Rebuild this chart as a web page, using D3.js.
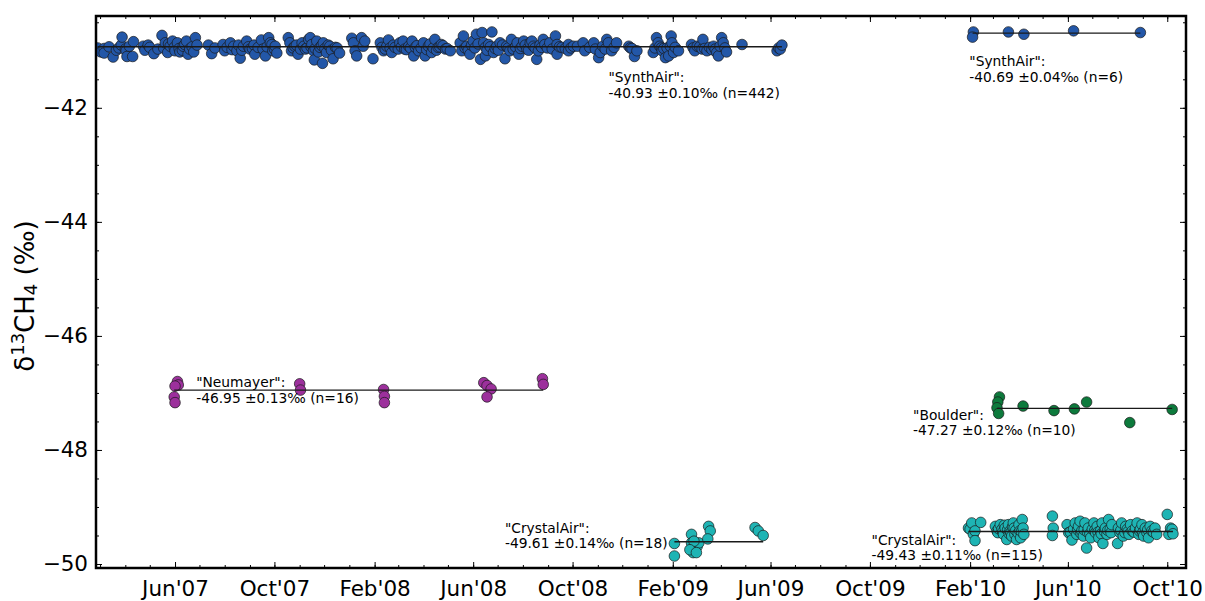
<!DOCTYPE html>
<html>
<head>
<meta charset="utf-8">
<script src="https://cdn.jsdelivr.net/npm/d3@7"></script>
<style>
  body { margin: 0; background: #fff; }
  svg { display: block; }
  text { font-family: "DejaVu Sans", sans-serif; fill: #000; }
</style>
</head>
<body>
<svg id="chart" width="1205" height="601"></svg>
<script>
// δ13CH4 of reference gases measured over time.
// Each point: [days since 1 Jan 2007, δ13CH4 in ‰].

const synthAir1 = [
  [56,-40.95],[60,-41.02],
  [64,-40.96],[64,-41.04],[70,-40.93],[75,-41.11],[79,-40.99],[82,-40.95],[85,-40.90],[86,-40.76],[90,-40.97],[91,-41.00],[92,-41.10],[95,-40.92],[99,-41.10],[100,-40.84],
  [112,-40.92],[114,-40.99],[118,-40.90],[120,-40.94],[125,-41.05],[130,-40.97],[135,-40.73],[137,-40.95],[139,-40.86],[142,-41.03],[143,-40.88],[145,-40.92],[148,-40.83],[150,-40.94],[151,-41.00],[154,-40.86],[156,-40.96],[157,-41.02],[160,-40.99],[161,-40.92],[163,-40.89],[165,-40.83],[167,-41.06],[169,-40.97],[172,-40.93],[174,-41.02],[176,-40.77],[178,-40.90],
  [192,-40.90],[196,-41.05],[200,-40.95],[210,-40.89],[212,-41.00],[215,-40.94],[219,-40.86],[221,-40.98],[223,-40.92],[227,-41.00],[229,-40.90],[231,-41.13],[233,-40.99],[235,-40.92],[239,-40.83],[241,-40.93],[243,-40.97],[246,-40.96],[248,-40.90],[249,-41.06],[253,-40.94],[257,-40.81],[259,-40.97],[262,-41.09],[264,-40.93],[266,-40.77],[268,-40.86],[270,-40.89],[271,-41.00],[273,-40.97],[274,-40.92],[276,-41.04],
  [290,-40.77],[292,-40.86],[294,-41.00],[296,-40.95],[298,-40.92],[300,-40.90],[302,-41.06],[305,-40.97],[307,-40.86],[309,-40.92],[311,-40.97],[313,-40.95],[315,-40.80],[317,-40.77],[318,-40.93],[319,-40.89],[321,-41.00],[322,-41.16],[323,-40.96],[325,-40.83],[327,-41.02],[329,-40.94],[331,-40.91],[332,-41.22],[333,-40.86],[335,-40.96],[337,-41.03],[339,-40.90],[341,-40.92],[343,-40.99],[345,-41.14],[348,-40.94],[350,-40.95],[353,-41.04],
  [368,-40.78],[370,-40.86],[372,-41.00],[374,-41.09],[380,-40.77],[382,-40.92],[384,-40.83],[394,-41.14],
  [403,-40.86],[405,-40.94],[407,-41.00],[409,-40.97],[411,-40.92],[413,-40.81],[415,-40.95],[417,-41.03],[419,-40.90],[421,-40.94],[425,-40.97],[427,-40.86],[429,-40.93],[431,-40.83],[433,-40.97],[435,-40.98],[438,-40.92],[440,-40.95],[442,-40.83],[444,-41.09],[446,-40.94],[448,-40.91],[450,-41.00],[453,-40.95],[456,-40.86],[458,-41.09],[460,-40.98],[462,-40.92],[464,-40.88],[466,-41.03],[468,-40.95],[470,-40.80],[472,-40.99],[474,-40.94],[476,-40.93],[478,-40.89],[480,-40.91],[483,-40.97],[485,-40.96],[489,-41.00],
  [501,-40.86],[503,-41.00],[505,-40.74],[507,-40.95],[509,-40.92],[511,-40.99],[513,-41.06],[515,-40.90],[517,-40.83],[519,-40.95],[521,-40.71],[523,-40.88],[526,-41.15],[528,-40.68],[530,-40.86],[532,-40.94],[532,-41.09],[534,-40.99],[536,-40.89],[538,-40.93],[540,-40.67],[542,-41.03],[544,-40.96],[546,-40.92],[548,-40.99],[550,-40.86],[553,-40.90],[556,-41.14],[558,-40.92],[560,-40.95],[562,-41.00],[564,-40.80],[566,-40.97],[569,-40.93],[571,-40.86],[573,-41.06],[575,-40.96],[577,-40.92],[579,-40.83],[581,-40.90],[583,-40.97],[585,-40.99],[587,-40.86],[589,-40.83],[591,-40.92],[593,-40.95],[595,-41.15],[597,-41.00],[599,-40.90],[601,-40.94],[603,-40.80],[605,-40.89],[608,-40.95],[611,-40.86],[614,-40.97],[618,-40.74],[620,-40.89],[620,-41.06],[623,-40.93],[626,-40.94],[630,-40.96],[634,-40.89],[634,-41.00],[637,-40.95],[640,-40.92],[645,-40.92],[652,-40.86],[654,-41.00],[660,-40.94],[665,-40.86],[667,-40.97],[671,-41.12],[673,-41.03],[676,-40.92],[679,-40.97],[681,-40.80],[683,-40.86],[687,-41.00],[690,-40.94],[693,-40.86],[708,-40.92],[710,-40.95],[712,-40.96],[715,-41.10],[718,-41.00],
  [738,-41.03],[740,-40.95],[742,-40.77],[744,-40.86],[746,-40.92],[748,-40.95],[749,-41.00],[751,-40.96],[753,-41.12],[755,-40.95],[757,-41.09],[759,-40.92],[760,-40.74],[761,-40.86],[763,-41.03],[765,-40.94],[769,-41.00],
  [785,-40.89],[787,-40.95],[789,-41.00],[792,-40.92],[795,-40.93],[798,-40.97],[799,-40.80],[801,-40.96],[804,-41.00],[807,-40.94],[810,-40.98],[812,-40.92],[814,-40.97],[816,-41.03],[818,-41.09],[820,-40.92],[822,-40.77],[824,-40.86],[826,-40.95],[828,-41.02],
  [847,-40.89],
  [890,-41.00],[892,-40.95],[894,-40.97],[896,-40.90]
];

const synthAir2 = [
  [1131,-40.67],[1130,-40.76],[1174,-40.67],[1193,-40.71],[1254,-40.65],[1336,-40.68]
];

const neumayer = [
  [154,-46.80],[155,-46.86],[151,-46.88],[150,-47.07],[151,-47.17],
  [304,-46.84],[305,-46.95],
  [407,-46.94],[408,-47.06],[408,-47.17],
  [530,-46.82],[534,-46.87],[539,-46.93],[534,-47.07],
  [602,-46.75],[603,-46.85]
];

const boulder = [
  [1163,-47.07],[1161,-47.16],[1160,-47.26],[1162,-47.36],[1192,-47.23],
  [1230,-47.31],[1255,-47.28],[1270,-47.16],[1323,-47.52],[1375,-47.29]
];

const crystalAir1 = [
  [764,-49.64],[764,-49.86],[785,-49.48],[785,-49.63],[787,-49.72],[789,-49.66],[792,-49.69],[794,-49.63],[788,-49.60],
  [787,-49.80],[783,-49.75],[791,-49.80],
  [806,-49.34],[808,-49.42],[805,-49.56],
  [863,-49.36],[867,-49.42],[873,-49.50]
];

const crystalAir2 = [
  [1125,-49.37],[1127,-49.39],[1129,-49.28],[1131,-49.48],[1133,-49.42],[1133,-49.59],[1140,-49.27],
  [1158,-49.34],[1160,-49.42],[1161,-49.45],[1162,-49.38],[1164,-49.31],[1166,-49.39],[1167,-49.44],[1168,-49.48],[1169,-49.32],[1170,-49.37],[1172,-49.57],[1173,-49.40],[1174,-49.31],[1175,-49.47],[1176,-49.42],[1177,-49.45],[1178,-49.51],[1179,-49.35],[1180,-49.28],[1181,-49.37],[1182,-49.48],[1183,-49.41],[1184,-49.57],[1186,-49.46],[1187,-49.31],[1188,-49.42],[1189,-49.54],[1190,-49.43],[1191,-49.22],[1192,-49.37],[1193,-49.48],
  [1228,-49.16],[1229,-49.37],[1228,-49.50],[1246,-49.31],[1248,-49.45],[1250,-49.44],[1252,-49.58],[1254,-49.39],[1256,-49.28],[1258,-49.48],[1259,-49.40],[1260,-49.34],[1262,-49.25],[1263,-49.46],[1264,-49.42],[1266,-49.51],[1267,-49.40],[1268,-49.28],[1270,-49.72],[1271,-49.44],[1272,-49.37],[1274,-49.47],[1275,-49.54],[1277,-49.39],[1279,-49.28],[1280,-49.41],[1281,-49.45],[1283,-49.34],[1284,-49.44],[1285,-49.54],[1287,-49.42],[1288,-49.47],[1289,-49.28],[1290,-49.64],[1292,-49.43],[1293,-49.37],[1295,-49.48],[1296,-49.41],[1297,-49.22],[1299,-49.39],[1300,-49.45],[1301,-49.31],
  [1308,-49.64],[1309,-49.37],[1311,-49.45],[1312,-49.41],[1313,-49.28],[1315,-49.51],[1317,-49.45],[1318,-49.34],[1320,-49.39],[1321,-49.43],[1322,-49.48],[1324,-49.31],[1326,-49.42],[1328,-49.44],[1330,-49.37],[1332,-49.28],[1334,-49.48],[1335,-49.42],[1336,-49.39],[1338,-49.31],[1339,-49.45],[1340,-49.51],[1342,-49.37],[1344,-49.45],[1345,-49.40],[1346,-49.54],[1348,-49.34],[1350,-49.42],[1352,-49.44],[1354,-49.37],[1356,-49.48],
  [1369,-49.13],[1371,-49.48],[1373,-49.37],[1375,-49.39],[1376,-49.47]
];

// Summary statistics per gas run (mean, 1σ, number of measurements)
const groupNames  = ["SynthAir", "SynthAir", "Neumayer", "Boulder", "CrystalAir", "CrystalAir"];
const groupSeries = [synthAir1, synthAir2, neumayer, boulder, crystalAir1, crystalAir2];
const groupMeans  = [-40.93, -40.69, -46.95, -47.27, -49.61, -49.43];
const groupSds    = [0.10, 0.04, 0.13, 0.12, 0.14, 0.11];
const groupCounts = [442, 6, 16, 10, 18, 115];

// Axis tick labels
const xTickLabels = ["Jun'07","Oct'07","Feb'08","Jun'08","Oct'08","Feb'09","Jun'09","Oct'09","Feb'10","Jun'10","Oct'10"];
const yTickValues = [-50, -48, -46, -44, -42];

// ---- layout & style ----
const groupColors = ["#2357a8", "#2357a8", "#9c309c", "#0d7a3c", "#1eb4b4", "#1eb4b4"];
// annotation anchors in data units: [day, δ value of first text baseline]
const noteAnchors = [[683,-41.55],[1126,-41.27],[177,-46.90],[1057,-47.47],[556,-49.45],[1006,-49.66]];

const W = 1205, H = 601;
const plot = { left: 96, right: 1186, top: 16, bottom: 568 };
const epoch = Date.UTC(2007, 0, 1);
const toDate = d => new Date(epoch + d * 864e5);

const x = d3.scaleUtc()
  .domain([toDate(54), toDate(1392)])
  .range([plot.left, plot.right]);
const y = d3.scaleLinear()
  .domain([-50.07, -40.39])
  .range([plot.bottom, plot.top]);

const svg = d3.select("#chart");

svg.append("defs").append("clipPath").attr("id", "plot-clip")
  .append("rect")
  .attr("x", plot.left).attr("y", plot.top)
  .attr("width", plot.right - plot.left).attr("height", plot.bottom - plot.top);

// ---- ticks (inward, on all four sides) ----
const parseTick = d3.utcParse("%b'%y");
const majorDates = xTickLabels.map(parseTick);
const minorDates = d3.utcMonth.range(x.domain()[0], x.domain()[1]);
const yMinor = d3.range(-50, -40.4, 0.5);

function styleAxis(g) {
  g.select(".domain").remove();
  g.selectAll(".tick line").attr("stroke", "#000").attr("stroke-width", 1);
  g.selectAll("text").style("font-family", "DejaVu Sans, sans-serif").attr("fill", "#000");
}

svg.append("g").attr("transform", `translate(0,${plot.bottom})`)
  .call(d3.axisBottom(x).tickValues(minorDates).tickSize(-3).tickFormat(""))
  .call(styleAxis);
svg.append("g").attr("transform", `translate(0,${plot.top})`)
  .call(d3.axisTop(x).tickValues(minorDates).tickSize(-3).tickFormat(""))
  .call(styleAxis);
svg.append("g").attr("transform", `translate(0,${plot.bottom})`)
  .call(d3.axisBottom(x).tickValues(majorDates).tickSize(-6).tickPadding(13)
    .tickFormat((d, i) => xTickLabels[i]))
  .call(styleAxis)
  .selectAll("text").attr("font-size", 21.5);
svg.append("g").attr("transform", `translate(0,${plot.top})`)
  .call(d3.axisTop(x).tickValues(majorDates).tickSize(-6).tickFormat(""))
  .call(styleAxis);

svg.append("g").attr("transform", `translate(${plot.left},0)`)
  .call(d3.axisLeft(y).tickValues(yMinor).tickSize(-3).tickFormat(""))
  .call(styleAxis);
svg.append("g").attr("transform", `translate(${plot.right},0)`)
  .call(d3.axisRight(y).tickValues(yMinor).tickSize(-3).tickFormat(""))
  .call(styleAxis);
svg.append("g").attr("transform", `translate(${plot.left},0)`)
  .call(d3.axisLeft(y).tickValues(yTickValues).tickSize(-6).tickPadding(8).tickFormat(d3.format("d")))
  .call(styleAxis)
  .selectAll("text").attr("font-size", 21.5);
svg.append("g").attr("transform", `translate(${plot.right},0)`)
  .call(d3.axisRight(y).tickValues(yTickValues).tickSize(-6).tickFormat(""))
  .call(styleAxis);

// ---- points and mean lines ----
const marks = svg.append("g").attr("clip-path", "url(#plot-clip)");

groupSeries.forEach((series, i) => {
  marks.append("g")
    .selectAll("circle")
    .data(series)
    .join("circle")
    .attr("cx", d => x(toDate(d[0])))
    .attr("cy", d => y(d[1]))
    .attr("r", 5.3)
    .attr("fill", groupColors[i])
    .attr("stroke", "#1a1a1a")
    .attr("stroke-width", 0.7);
});

groupSeries.forEach((series, i) => {
  const [d0, d1] = d3.extent(series, d => d[0]);
  marks.append("line")
    .attr("x1", x(toDate(d0))).attr("x2", x(toDate(d1)))
    .attr("y1", y(groupMeans[i])).attr("y2", y(groupMeans[i]))
    .attr("stroke", "#1a1a1a").attr("stroke-width", 1.4);
});

// ---- annotations ----
groupNames.forEach((name, i) => {
  const [ad, av] = noteAnchors[i];
  const t = svg.append("text")
    .attr("x", x(toDate(ad)))
    .attr("y", y(av))
    .attr("font-size", 13.8);
  t.append("tspan").text(`"${name}":`);
  t.append("tspan")
    .attr("x", x(toDate(ad)))
    .attr("dy", 15.5)
    .text(`${groupMeans[i].toFixed(2)} ±${groupSds[i].toFixed(2)}‰ (n=${groupCounts[i]})`);
});

// ---- frame ----
svg.append("rect")
  .attr("x", plot.left).attr("y", plot.top)
  .attr("width", plot.right - plot.left).attr("height", plot.bottom - plot.top)
  .attr("fill", "none").attr("stroke", "#000").attr("stroke-width", 2.5);

// ---- y axis title ----
const yt = svg.append("text")
  .attr("transform", `translate(34,${(plot.top + plot.bottom) / 2 + 4}) rotate(-90)`)
  .attr("text-anchor", "middle")
  .attr("font-size", 26);
yt.append("tspan").text("δ");
yt.append("tspan").attr("font-size", 18).attr("dy", -10).text("13");
yt.append("tspan").attr("dy", 10).text("CH");
yt.append("tspan").attr("font-size", 18).attr("dy", 3).text("4");
yt.append("tspan").attr("dy", -3).text(" (‰)");
</script>
</body>
</html>
